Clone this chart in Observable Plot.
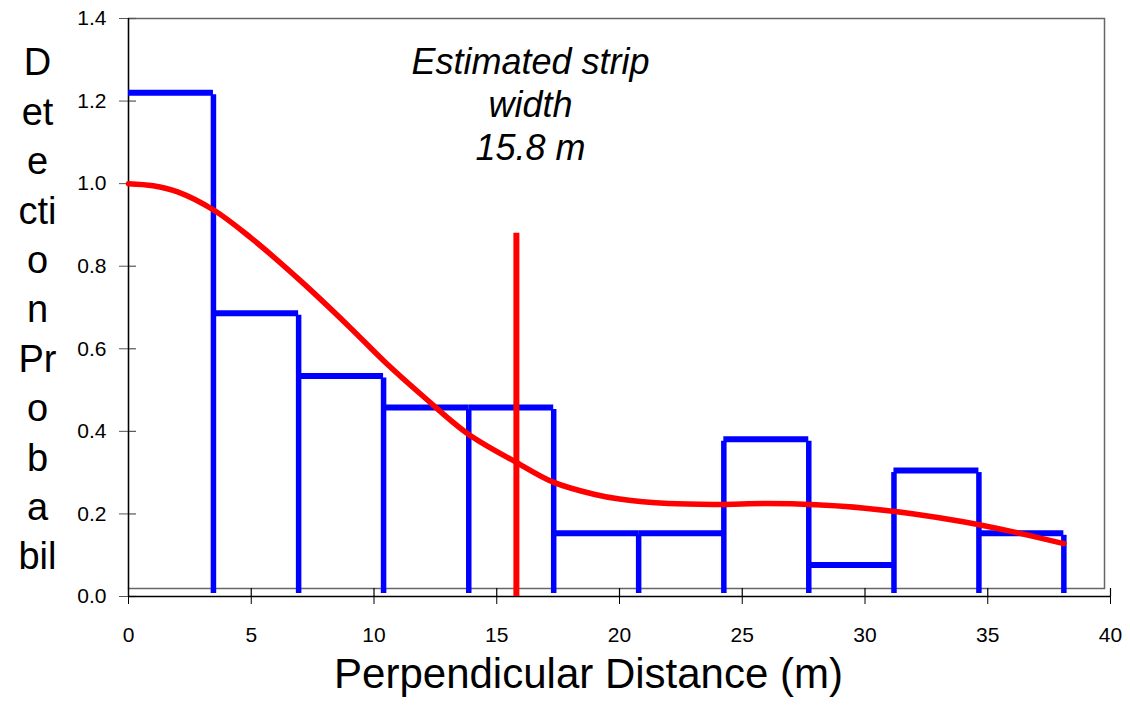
<!DOCTYPE html>
<html>
<head>
<meta charset="utf-8">
<script src="https://cdn.jsdelivr.net/npm/d3@7"></script>
<script src="https://cdn.jsdelivr.net/npm/@observablehq/plot@0.6"></script>
<style>
  html, body { margin: 0; padding: 0; background: #fff; }
  #chart svg { display: block; }
</style>
</head>
<body>
<div id="chart"></div>
<script>
// ---- data ----
const binEdges = [0, 3.46, 6.93, 10.39, 13.86, 17.32, 20.78, 24.25, 27.71, 31.18, 34.64, 38.1];
const binHeights = [1.22, 0.686, 0.534, 0.458, 0.458, 0.153, 0.153, 0.381, 0.076, 0.305, 0.153];

const curveX = [0, 1, 2, 3.5, 5, 7, 9, 10.5, 12, 13.8, 15.8, 17.3, 19, 20, 22, 24, 26, 28, 30, 32, 34, 36, 38.1];
const curveY = [1.0, 0.995, 0.98, 0.935, 0.868, 0.765, 0.653, 0.565, 0.485, 0.395, 0.325, 0.277, 0.247, 0.236, 0.225, 0.223, 0.225, 0.222, 0.214, 0.2, 0.181, 0.157, 0.128];

const stripWidth = 15.8;
const stripLineTop = 0.88;
const annotationLines = ["Estimated strip", "width", "15.8 m"];

const xTicks = [0, 5, 10, 15, 20, 25, 30, 35, 40];
const yTicks = [0, 0.2, 0.4, 0.6, 0.8, 1.0, 1.2, 1.4];
const yLabelLines = ["D", "et", "e", "cti", "o", "n", "Pr", "o", "b", "a", "bil"];
const xLabel = "Perpendicular Distance (m)";

// ---- derived tables ----
const bins = binHeights.map((h, i) => ({x1: binEdges[i], x2: binEdges[i + 1], h}));
const edges = binEdges.slice(1).map((e, i) => ({
  x: e,
  h: Math.max(binHeights[i], i + 1 < binHeights.length ? binHeights[i + 1] : 0)
}));
const curve = curveX.map((x, i) => ({x, y: curveY[i]}));

// ---- layout ----
const W = 1130, H = 705;
const mL = 128, mR = 20, mT = 18, mB = 109;
const frameW = W - mL - mR, frameH = H - mT - mB;
const font = "'Liberation Sans', Arial, Helvetica, sans-serif";

const chart = Plot.plot({
  width: W,
  height: H,
  marginLeft: mL,
  marginRight: mR,
  marginTop: mT,
  marginBottom: mB,
  style: {fontFamily: font, background: "#fff"},
  x: {domain: [0, 40]},
  y: {domain: [0, 1.4]},
  marks: [
    Plot.frame({stroke: "#666", strokeWidth: 1.5, insetRight: 6, insetBottom: 8}),
    // axes
    Plot.axisY(yTicks, {
      tickSize: 9, tickPadding: 13, fontSize: 21, stroke: "#555",
      tickFormat: d3.format(".1f"), label: null, color: "#000"
    }),
    Plot.ruleY(yTicks, {stroke: "#555", strokeWidth: 1.2, insetRight: frameW - 8}),
    Plot.axisX(xTicks, {
      tickSize: 8, tickPadding: 23, fontSize: 21, stroke: "#000",
      tickFormat: d3.format("d"), label: null, color: "#000"
    }),
    Plot.ruleX(xTicks, {stroke: "#000", strokeWidth: 1.2, insetTop: frameH - 8}),
    Plot.ruleX([0], {stroke: "#000", strokeWidth: 1.3}),
    Plot.ruleY([0], {stroke: "#000", strokeWidth: 1.3}),
    // histogram outline
    Plot.ruleY(bins, {x1: "x1", x2: "x2", y: "h", stroke: "#0000ff", strokeWidth: 6}),
    Plot.ruleX(edges, {x: "x", y1: 0, y2: "h", stroke: "#0000ff", strokeWidth: 5.5, insetBottom: -2, insetTop: -3}),
    // fitted detection curve
    Plot.line(curve, {x: "x", y: "y", stroke: "#ff0000", strokeWidth: 5.5, curve: "catmull-rom"}),
    // strip width line
    Plot.ruleX([stripWidth], {y1: 0, y2: stripLineTop, stroke: "#ff0000", strokeWidth: 6}),
    // annotation
    Plot.text([annotationLines.join("\n")], {
      frameAnchor: "top", dx: -89, dy: 85, lineAnchor: "middle",
      fontSize: 36, fontStyle: "italic", lineHeight: 1.19, fill: "#000"
    }),
    // axis labels
    Plot.text([yLabelLines.join("\n")], {
      frameAnchor: "left", dx: -91, dy: -1, lineAnchor: "middle", textAnchor: "middle",
      fontSize: 38, lineHeight: 1.3, fill: "#000"
    }),
    Plot.text([xLabel], {
      frameAnchor: "bottom", dx: -31, dy: 78, lineAnchor: "middle",
      fontSize: 42, fill: "#000"
    })
  ]
});
document.getElementById("chart").append(chart);
</script>
</body>
</html>
